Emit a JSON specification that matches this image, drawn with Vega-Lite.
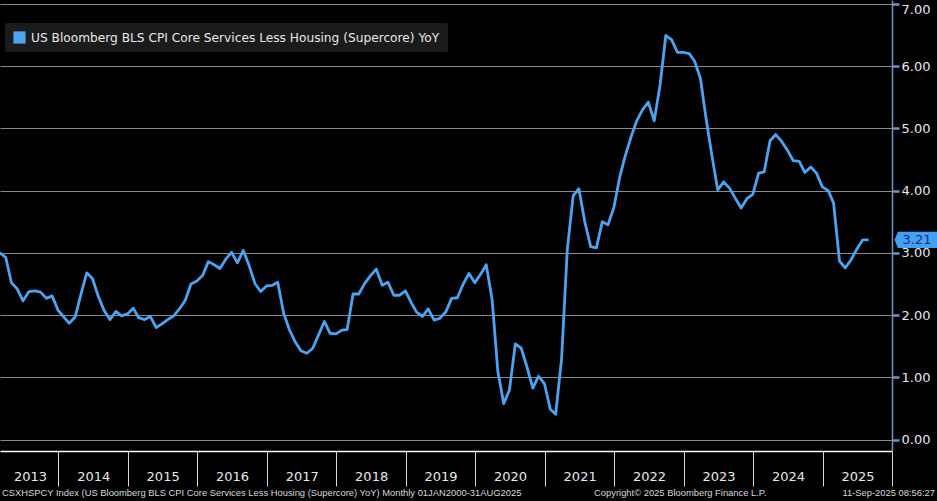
{
  "$schema": "https://vega.github.io/schema/vega-lite/v6.json",
  "width": 892,
  "height": 451,
  "autosize": {"type": "none"},
  "padding": {"left": 0, "top": 0, "right": 45, "bottom": 50},
  "background": "#000000",
  "config": {"view": {"stroke": null}, "font": "DejaVu Sans"},
  "data": {"values": [
    {"date": "2013-01-31", "value": 3.02},
    {"date": "2013-02-28", "value": 3.00},
    {"date": "2013-03-31", "value": 2.93},
    {"date": "2013-04-30", "value": 2.52},
    {"date": "2013-05-31", "value": 2.42},
    {"date": "2013-06-30", "value": 2.23},
    {"date": "2013-07-31", "value": 2.38},
    {"date": "2013-08-31", "value": 2.39},
    {"date": "2013-09-30", "value": 2.37},
    {"date": "2013-10-31", "value": 2.27},
    {"date": "2013-11-30", "value": 2.31},
    {"date": "2013-12-31", "value": 2.08},
    {"date": "2014-01-31", "value": 1.97},
    {"date": "2014-02-28", "value": 1.87},
    {"date": "2014-03-31", "value": 1.97},
    {"date": "2014-04-30", "value": 2.33},
    {"date": "2014-05-31", "value": 2.68},
    {"date": "2014-06-30", "value": 2.59},
    {"date": "2014-07-31", "value": 2.30},
    {"date": "2014-08-31", "value": 2.07},
    {"date": "2014-09-30", "value": 1.93},
    {"date": "2014-10-31", "value": 2.06},
    {"date": "2014-11-30", "value": 1.99},
    {"date": "2014-12-31", "value": 2.02},
    {"date": "2015-01-31", "value": 2.11},
    {"date": "2015-02-28", "value": 1.96},
    {"date": "2015-03-31", "value": 1.93},
    {"date": "2015-04-30", "value": 1.98},
    {"date": "2015-05-31", "value": 1.80},
    {"date": "2015-06-30", "value": 1.86},
    {"date": "2015-07-31", "value": 1.93},
    {"date": "2015-08-31", "value": 1.99},
    {"date": "2015-09-30", "value": 2.10},
    {"date": "2015-10-31", "value": 2.24},
    {"date": "2015-11-30", "value": 2.50},
    {"date": "2015-12-31", "value": 2.55},
    {"date": "2016-01-31", "value": 2.64},
    {"date": "2016-02-29", "value": 2.86},
    {"date": "2016-03-31", "value": 2.81},
    {"date": "2016-04-30", "value": 2.75},
    {"date": "2016-05-31", "value": 2.90},
    {"date": "2016-06-30", "value": 3.01},
    {"date": "2016-07-31", "value": 2.84},
    {"date": "2016-08-31", "value": 3.04},
    {"date": "2016-09-30", "value": 2.80},
    {"date": "2016-10-31", "value": 2.51},
    {"date": "2016-11-30", "value": 2.38},
    {"date": "2016-12-31", "value": 2.47},
    {"date": "2017-01-31", "value": 2.48},
    {"date": "2017-02-28", "value": 2.53},
    {"date": "2017-03-31", "value": 2.03},
    {"date": "2017-04-30", "value": 1.77},
    {"date": "2017-05-31", "value": 1.57},
    {"date": "2017-06-30", "value": 1.43},
    {"date": "2017-07-31", "value": 1.39},
    {"date": "2017-08-31", "value": 1.47},
    {"date": "2017-09-30", "value": 1.68},
    {"date": "2017-10-31", "value": 1.90},
    {"date": "2017-11-30", "value": 1.71},
    {"date": "2017-12-31", "value": 1.70},
    {"date": "2018-01-31", "value": 1.76},
    {"date": "2018-02-28", "value": 1.77},
    {"date": "2018-03-31", "value": 2.34},
    {"date": "2018-04-30", "value": 2.34},
    {"date": "2018-05-31", "value": 2.51},
    {"date": "2018-06-30", "value": 2.63},
    {"date": "2018-07-31", "value": 2.74},
    {"date": "2018-08-31", "value": 2.48},
    {"date": "2018-09-30", "value": 2.53},
    {"date": "2018-10-31", "value": 2.32},
    {"date": "2018-11-30", "value": 2.32},
    {"date": "2018-12-31", "value": 2.39},
    {"date": "2019-01-31", "value": 2.20},
    {"date": "2019-02-28", "value": 2.05},
    {"date": "2019-03-31", "value": 1.98},
    {"date": "2019-04-30", "value": 2.10},
    {"date": "2019-05-31", "value": 1.92},
    {"date": "2019-06-30", "value": 1.95},
    {"date": "2019-07-31", "value": 2.05},
    {"date": "2019-08-31", "value": 2.27},
    {"date": "2019-09-30", "value": 2.28},
    {"date": "2019-10-31", "value": 2.50},
    {"date": "2019-11-30", "value": 2.67},
    {"date": "2019-12-31", "value": 2.52},
    {"date": "2020-01-31", "value": 2.66},
    {"date": "2020-02-29", "value": 2.81},
    {"date": "2020-03-31", "value": 2.25},
    {"date": "2020-04-30", "value": 1.10},
    {"date": "2020-05-31", "value": 0.58},
    {"date": "2020-06-30", "value": 0.80},
    {"date": "2020-07-31", "value": 1.54},
    {"date": "2020-08-31", "value": 1.47},
    {"date": "2020-09-30", "value": 1.17},
    {"date": "2020-10-31", "value": 0.83},
    {"date": "2020-11-30", "value": 1.02},
    {"date": "2020-12-31", "value": 0.90},
    {"date": "2021-01-31", "value": 0.49},
    {"date": "2021-02-28", "value": 0.41},
    {"date": "2021-03-31", "value": 1.30},
    {"date": "2021-04-30", "value": 3.05},
    {"date": "2021-05-31", "value": 3.92},
    {"date": "2021-06-30", "value": 4.03},
    {"date": "2021-07-31", "value": 3.50},
    {"date": "2021-08-31", "value": 3.10},
    {"date": "2021-09-30", "value": 3.08},
    {"date": "2021-10-31", "value": 3.50},
    {"date": "2021-11-30", "value": 3.45},
    {"date": "2021-12-31", "value": 3.73},
    {"date": "2022-01-31", "value": 4.22},
    {"date": "2022-02-28", "value": 4.55},
    {"date": "2022-03-31", "value": 4.86},
    {"date": "2022-04-30", "value": 5.12},
    {"date": "2022-05-31", "value": 5.30},
    {"date": "2022-06-30", "value": 5.42},
    {"date": "2022-07-31", "value": 5.12},
    {"date": "2022-08-31", "value": 5.70},
    {"date": "2022-09-30", "value": 6.49},
    {"date": "2022-10-31", "value": 6.42},
    {"date": "2022-11-30", "value": 6.22},
    {"date": "2022-12-31", "value": 6.22},
    {"date": "2023-01-31", "value": 6.20},
    {"date": "2023-02-28", "value": 6.08},
    {"date": "2023-03-31", "value": 5.80},
    {"date": "2023-04-30", "value": 5.15},
    {"date": "2023-05-31", "value": 4.55},
    {"date": "2023-06-30", "value": 4.01},
    {"date": "2023-07-31", "value": 4.14},
    {"date": "2023-08-31", "value": 4.04},
    {"date": "2023-09-30", "value": 3.88},
    {"date": "2023-10-31", "value": 3.72},
    {"date": "2023-11-30", "value": 3.87},
    {"date": "2023-12-31", "value": 3.94},
    {"date": "2024-01-31", "value": 4.28},
    {"date": "2024-02-29", "value": 4.30},
    {"date": "2024-03-31", "value": 4.80},
    {"date": "2024-04-30", "value": 4.90},
    {"date": "2024-05-31", "value": 4.79},
    {"date": "2024-06-30", "value": 4.65},
    {"date": "2024-07-31", "value": 4.48},
    {"date": "2024-08-31", "value": 4.47},
    {"date": "2024-09-30", "value": 4.29},
    {"date": "2024-10-31", "value": 4.38},
    {"date": "2024-11-30", "value": 4.28},
    {"date": "2024-12-31", "value": 4.06},
    {"date": "2025-01-31", "value": 4.00},
    {"date": "2025-02-28", "value": 3.80},
    {"date": "2025-03-31", "value": 2.87},
    {"date": "2025-04-30", "value": 2.76},
    {"date": "2025-05-31", "value": 2.89},
    {"date": "2025-06-30", "value": 3.06},
    {"date": "2025-07-31", "value": 3.21},
    {"date": "2025-08-31", "value": 3.21}
  ]},
  "layer": [
    {
      "mark": {"type": "line", "clip": true, "strokeWidth": 2.8, "strokeJoin": "round"},
      "encoding": {
        "x": {
          "field": "date", "type": "temporal",
          "scale": {"type": "utc", "domain": [{"year": 2013, "month": 3, "date": 1, "utc": true}, {"year": 2026, "month": 1, "date": 1, "utc": true}]},
          "axis": {
            "title": null, "grid": false,
            "values": [
              {"year": 2013, "month": 3, "date": 1, "utc": true},
              {"year": 2014, "month": 1, "date": 1, "utc": true},
              {"year": 2015, "month": 1, "date": 1, "utc": true},
              {"year": 2016, "month": 1, "date": 1, "utc": true},
              {"year": 2017, "month": 1, "date": 1, "utc": true},
              {"year": 2018, "month": 1, "date": 1, "utc": true},
              {"year": 2019, "month": 1, "date": 1, "utc": true},
              {"year": 2020, "month": 1, "date": 1, "utc": true},
              {"year": 2021, "month": 1, "date": 1, "utc": true},
              {"year": 2022, "month": 1, "date": 1, "utc": true},
              {"year": 2023, "month": 1, "date": 1, "utc": true},
              {"year": 2024, "month": 1, "date": 1, "utc": true},
              {"year": 2025, "month": 1, "date": 1, "utc": true},
              {"year": 2026, "month": 1, "date": 1, "utc": true}
            ],
            "labelExpr": "utcyear(datum.value) == 2026 ? '' : utcFormat(datum.value, '%Y')",
            "labelOffset": {"condition": {"test": "utcyear(datum.value) == 2013", "value": 30}, "value": 35},
            "tickOpacity": {"condition": {"test": "utcyear(datum.value) == 2013", "value": 0}, "value": 1},
            "labelAlign": "center",
            "labelBaseline": "middle",
            "labelPadding": -10,
            "labelColor": "#e8e8e8",
            "labelFontSize": 13,
            "labelFont": "DejaVu Sans",
            "tickSize": 35,
            "tickColor": "#d8d8d8",
            "tickWidth": 1,
            "domainColor": "#ffffff",
            "domainWidth": 1.5,
            "labelOverlap": false,
            "labelFlush": false
          }
        },
        "y": {
          "field": "value", "type": "quantitative",
          "scale": {"domain": [-0.18, 7.06], "nice": false, "zero": false},
          "axis": {
            "orient": "right", "title": null,
            "values": [0, 0.5, 1, 1.5, 2, 2.5, 3, 3.5, 4, 4.5, 5, 5.5, 6, 6.5, 7],
            "grid": true,
            "gridColor": "#8a8a8a",
            "gridWidth": 1,
            "gridOpacity": {"condition": {"test": "datum.value % 1 !== 0", "value": 0}, "value": 1},
            "domainColor": "#6f93c0",
            "domainWidth": 1.5,
            "tickColor": "#6f93c0",
            "tickSize": {"condition": {"test": "datum.value % 1 !== 0", "value": 4}, "value": 7},
            "tickWidth": {"condition": {"test": "datum.value % 1 !== 0", "value": 1}, "value": 2.5},
            "labelExpr": "datum.value % 1 === 0 ? format(datum.value, '.2f') : ''",
            "labelOffset": {"condition": {"test": "datum.value === 7", "value": 6}, "value": 0},
            "labelColor": "#e8e8e8",
            "labelFontSize": 13,
            "labelPadding": 2,
            "labelBaseline": "middle",
            "labelOverlap": false,
            "labelFlush": false
          }
        },
        "color": {
          "datum": "US Bloomberg BLS CPI Core Services Less Housing (Supercore) YoY",
          "type": "nominal",
          "scale": {"range": ["#4da3f0"]},
          "legend": {
            "title": null,
            "orient": "none",
            "legendX": 5,
            "legendY": 23,
            "padding": 8,
            "fillColor": "#1b1b1b",
            "cornerRadius": 2,
            "symbolType": "square",
            "symbolSize": 150,
            "symbolFillColor": "#4da3f0",
            "symbolStrokeColor": "#4da3f0",
            "symbolStrokeWidth": 0,
            "labelColor": "#e8e8e8",
            "labelFontSize": 12.2,
            "labelLimit": 800,
            "labelOffset": 5
          }
        }
      }
    },
    {
      "transform": [{"filter": "utcyear(datum.date) == 2025 && utcmonth(datum.date) == 7"}],
      "mark": {"type": "point", "shape": "M -1 0 L -0.84 -0.38 L 1 -0.38 L 1 0.38 L -0.84 0.38 Z", "filled": true, "size": 1849, "fill": "#44a0f2", "opacity": 1, "strokeWidth": 0, "xOffset": 24, "clip": false},
      "encoding": {
        "x": {"datum": {"year": 2026, "month": 1, "date": 1, "utc": true}, "type": "temporal"},
        "y": {"field": "value", "type": "quantitative"}
      }
    },
    {
      "transform": [{"filter": "utcyear(datum.date) == 2025 && utcmonth(datum.date) == 7"}],
      "mark": {"type": "text", "align": "center", "baseline": "middle", "xOffset": 25, "fontSize": 13, "color": "#12317a", "clip": false},
      "encoding": {
        "x": {"datum": {"year": 2026, "month": 1, "date": 1, "utc": true}, "type": "temporal"},
        "y": {"field": "value", "type": "quantitative"},
        "text": {"field": "value", "type": "quantitative", "format": ".2f"}
      }
    },
    {
      "data": {"values": [{}]},
      "mark": {"type": "text", "text": "CSXHSPCY Index (US Bloomberg BLS CPI Core Services Less Housing (Supercore) YoY)  Monthly 01JAN2000-31AUG2025", "align": "left", "baseline": "middle", "dx": 2, "fontSize": 9.4, "font": "Liberation Sans", "color": "#d8d8d8", "clip": false},
      "encoding": {
        "x": {"datum": {"year": 2013, "month": 3, "date": 1, "utc": true}, "type": "temporal"},
        "y": {"datum": -0.86, "type": "quantitative"}
      }
    },
    {
      "data": {"values": [{}]},
      "mark": {"type": "text", "text": "Copyright© 2025 Bloomberg Finance L.P.", "align": "center", "baseline": "middle", "fontSize": 9.4, "font": "Liberation Sans", "color": "#d8d8d8", "clip": false},
      "encoding": {
        "x": {"datum": {"year": 2022, "month": 12, "date": 15, "utc": true}, "type": "temporal"},
        "y": {"datum": -0.86, "type": "quantitative"}
      }
    },
    {
      "data": {"values": [{}]},
      "mark": {"type": "text", "text": "11-Sep-2025 08:56:27", "align": "right", "baseline": "middle", "dx": 43, "fontSize": 9.4, "font": "Liberation Sans", "color": "#d8d8d8", "clip": false},
      "encoding": {
        "x": {"datum": {"year": 2026, "month": 1, "date": 1, "utc": true}, "type": "temporal"},
        "y": {"datum": -0.86, "type": "quantitative"}
      }
    }
  ]
}
